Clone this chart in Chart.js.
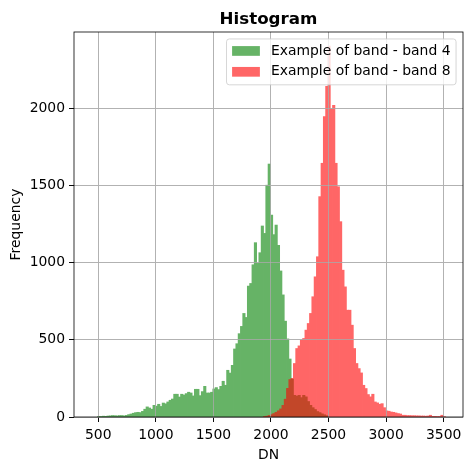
<!DOCTYPE html>
<html><head><meta charset="utf-8">
<script src="https://cdn.jsdelivr.net/npm/chart.js@4.4.1/dist/chart.umd.min.js"></script>
<style>html,body{margin:0;padding:0;background:#fff;}canvas{display:block;}</style>
</head><body>
<canvas id="c" width="471" height="470"></canvas>
<script>
// ---- data ----
const binWidth = 20;
const band4Start = 495;   // left edge of first band-4 bin
const band4Counts = [
  4,3,5,4,6,7,9,8,7,9, 9,7,10,15,19,24,28,30,28,36,
  50,65,58,50,75,70,82,68,90,85, 97,108,116,147,147,129,147,142,151,160,
  155,136,179,179,138,164,198,155,155,160, 181,190,177,198,231,205,302,284,334,440,
  474,539,586,670,644,847,864,985,1128,994, 1063,1236,1188,1500,1637,1307,1180,1242,1110,945,
  790,620,505,375,245,140,135,140,125,140, 130,100,75,60,48,35,28,20,14,8
];
const band8Start = 1935;  // left edge of first band-8 bin
const band8Counts = [
  3,5,10,15,22,30,40,52,75,115, 185,242,250,346,443,460,497,508,562,605,
  670,778,907,1037,1426,1642,1944,2140,2400,1994, 2017,1642,1490,1264,950,842,691,691,594,443,
  346,313,285,205,184,145,130,147,97,91, 82,86,60,39,37,32,30,26,22,19,
  11,11,9,9,8,8,7,7,6,6, 5,6,11,4,4,3,3,11,2
];
const seriesLabels = ['Example of band - band 4', 'Example of band - band 8'];
const seriesColors = ['#008000', '#ff0000'];
const seriesAlpha = 0.6;
const xTicks = [500, 1000, 1500, 2000, 2500, 3000, 3500];
const yTicks = [0, 500, 1000, 1500, 2000];
const titleText = 'Histogram';
const xTitle = 'DN';
const yTitle = 'Frequency';

function toBins(start, counts) {
  return counts.map((c, i) => ({ x: start + i * binWidth + binWidth / 2, y: c }));
}

const FS = 13.9;
const FAMILY = '"DejaVu Sans", sans-serif';
Chart.defaults.font.family = FAMILY;
Chart.defaults.font.size = FS;
Chart.defaults.color = '#000';

// draw each histogram opaque on its own layer, then blend the layer with alpha
// (like matplotlib's alpha on a whole bar container, no seams between bars)
const layer = document.createElement('canvas');
const alphaLayers = {
  id: 'alphaLayers',
  beforeDatasetDraw(chart, args) {
    layer.width = chart.width; layer.height = chart.height;
    const lctx = layer.getContext('2d');
    lctx.clearRect(0, 0, layer.width, layer.height);
    args.meta.controller._ctx = lctx;
  },
  afterDatasetDraw(chart, args) {
    args.meta.controller._ctx = chart.ctx;
    const ctx = chart.ctx;
    ctx.save();
    ctx.setTransform(1, 0, 0, 1, 0, 0);
    ctx.globalAlpha = seriesAlpha;
    ctx.drawImage(layer, 0, 0);
    ctx.restore();
  }
};

const overlay = {
  id: 'overlay',
  afterDatasetsDraw(chart) {
    chart.scales.x.drawGrid(chart.chartArea);
    chart.scales.y.drawGrid(chart.chartArea);
  },
  afterDraw(chart) {
    const { ctx, chartArea: a } = chart;
    ctx.save();
    // title
    ctx.fillStyle = '#000';
    ctx.font = 'bold 16.7px ' + FAMILY;
    ctx.textAlign = 'center';
    ctx.textBaseline = 'alphabetic';
    ctx.fillText(titleText, (a.left + a.right) / 2, a.top - 8);
    // legend
    ctx.font = FS + 'px ' + FAMILY;
    const ds = chart.data.datasets;
    const tw = Math.max(...ds.map(d => ctx.measureText(d.label).width));
    const pad = 0.4 * FS, hl = 2 * FS, htp = 0.8 * FS, axpad = 0.5 * FS;
    const textH = FS, spacing = 0.5 * FS;
    const w = pad + hl + htp + tw + pad;
    const h = 2 * pad + ds.length * textH + (ds.length - 1) * spacing;
    const right = a.right - axpad, top = a.top + axpad, left = right - w;
    ctx.beginPath();
    ctx.roundRect(left, top, w, h, 0.2 * FS);
    ctx.fillStyle = 'rgba(255,255,255,0.8)';
    ctx.fill();
    ctx.lineWidth = 1;
    ctx.strokeStyle = 'rgba(204,204,204,0.8)';
    ctx.stroke();
    ds.forEach((d, i) => {
      const cy = top + pad + textH / 2 + i * (textH + spacing) - 0.5;
      ctx.globalAlpha = seriesAlpha;
      ctx.fillStyle = d.backgroundColor;
      ctx.fillRect(left + pad, cy - 0.35 * FS, hl, 0.7 * FS);
      ctx.globalAlpha = 1;
      ctx.fillStyle = '#000';
      ctx.textAlign = 'left';
      ctx.textBaseline = 'middle';
      ctx.fillText(d.label, left + pad + hl + htp, cy);
    });
    // frame
    ctx.strokeStyle = '#000';
    ctx.lineWidth = 0.8;
    ctx.strokeRect(a.left, a.top, a.right - a.left, a.bottom - a.top);
    ctx.restore();
  }
};

const barOpts = { grouped: false, barPercentage: 1, categoryPercentage: 1, borderWidth: 0, inflateAmount: 0.4 };
const gridOpts = { offset: false, color: '#b0b0b0', lineWidth: 0.8, tickColor: '#000', tickLength: 5, tickWidth: 0.8 };

new Chart(document.getElementById('c'), {
  type: 'bar',
  data: {
    datasets: [
      Object.assign({ label: seriesLabels[0], data: toBins(band4Start, band4Counts), backgroundColor: seriesColors[0], order: 2 }, barOpts),
      Object.assign({ label: seriesLabels[1], data: toBins(band8Start, band8Counts), backgroundColor: seriesColors[1], order: 1 }, barOpts)
    ]
  },
  options: {
    responsive: false,
    animation: false,
    devicePixelRatio: 1,
    layout: { padding: { top: 32, right: 8, left: 0, bottom: 0 } },
    plugins: { legend: { display: false }, tooltip: { enabled: false }, title: { display: false } },
    scales: {
      x: {
        type: 'linear', min: 289, max: 3668, offset: false,
        afterBuildTicks: s => { s.ticks = xTicks.map(v => ({ value: v })); },
        afterFit: s => { s.height = 53; },
        grid: gridOpts,
        border: { display: false },
        ticks: { padding: 5, maxRotation: 0, autoSkip: false, color: '#000', font: { size: FS }, callback: v => String(v) },
        title: { display: true, text: xTitle, color: '#000', font: { size: FS }, padding: { bottom: 6 } }
      },
      y: {
        type: 'linear', min: 0, max: 2492,
        afterBuildTicks: s => { s.ticks = yTicks.map(v => ({ value: v })); },
        afterFit: s => { s.width = 74; },
        grid: gridOpts,
        border: { display: false },
        ticks: { padding: 4, autoSkip: false, color: '#000', font: { size: FS }, callback: v => String(v) },
        title: { display: true, text: yTitle, color: '#000', font: { size: FS }, padding: { top: 8.5 } }
      }
    }
  },
  plugins: [alphaLayers, overlay]
});
</script>
</body></html>
